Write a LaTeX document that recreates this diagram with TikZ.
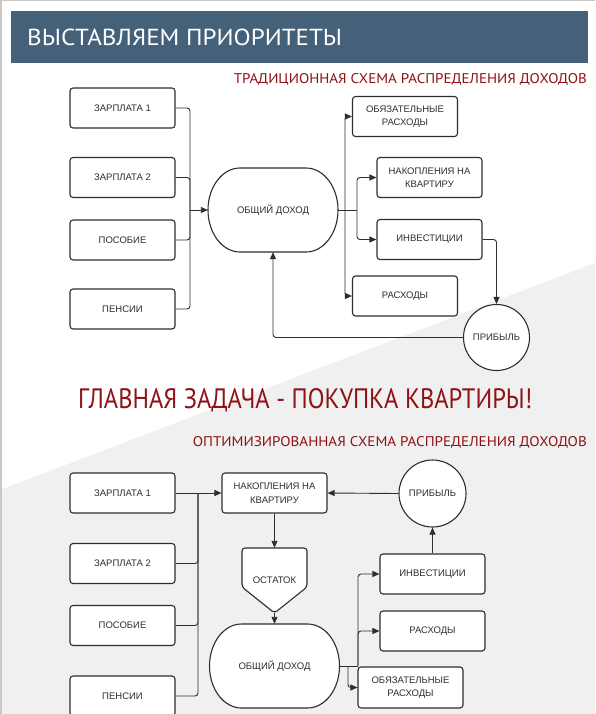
\documentclass[tikz,border=0pt]{standalone}
\usepackage{fontspec}
\setmainfont{Liberation Sans}
\newfontfamily\headfont{PT Sans}
\usetikzlibrary{arrows.meta,calc,positioning}

\definecolor{barblue}{HTML}{45617A}
\definecolor{headred}{HTML}{8E1216}
\definecolor{backgray}{HTML}{F0F0F0}
\definecolor{rim}{HTML}{C8C8C8}
\definecolor{ink}{HTML}{2E2E2E}

% stretched heading text
\newcommand{\banner}[3]{\resizebox{#1}{#2}{\headfont #3}}
% oval "total income" outline round a coordinate
\newcommand{\poolshape}[1]{%
  \filldraw[shapeline] ($(#1)+(-33,42)$) -- ($(#1)+(33,42)$)
    arc[start angle=90, end angle=-90, x radius=32, y radius=42]
    -- ($(#1)+(-33,-42)$)
    arc[start angle=270, end angle=90, x radius=32, y radius=42] -- cycle;}

\tikzset{
  boxtext/.style={font=\fontsize{9.5}{13.5}\selectfont, text=ink, align=center},
  shapeline/.style={draw=ink, fill=white, line width=1.1pt},
  block/.style={boxtext, shapeline, rounded corners=3pt, minimum width=105pt, minimum height=40pt, inner sep=1pt},
  money/.style={boxtext, shapeline, circle, minimum size=66pt, inner sep=0pt},
  pool/.style={boxtext, minimum width=130pt, minimum height=84pt, inner sep=0pt},
  link/.style={draw=ink, line width=0.9pt, rounded corners=3pt},
  flow/.style={link, -{Triangle[length=7pt, width=6pt]}},
  heading/.style={inner sep=0pt, text=headred}
}

\begin{document}
\begin{tikzpicture}[x=1pt, y=1pt]
% page, background and header
\clip (0,0) rectangle (595,-714);
\fill[white] (0,0) rectangle (595,-714);
\fill[backgray] (595,-263) -- (0,-490) -- (0,-714) -- (595,-714) -- cycle;
\draw[rim, line width=1.5pt] (0.75,-714) -- (0.75,-0.75) -- (595,-0.75);
\fill[barblue] (11,-11) rectangle (588,-63);
\node[anchor=base west, inner sep=0pt, text=white] (title) at (27,-46)
  {\banner{315pt}{16.5pt}{ВЫСТАВЛЯЕМ ПРИОРИТЕТЫ}};
\node[heading, anchor=base east] (oldhead) at (587,-84)
  {\banner{353pt}{10pt}{ТРАДИЦИОННАЯ СХЕМА РАСПРЕДЕЛЕНИЯ ДОХОДОВ}};
\node[heading, anchor=base west] (goal) at (78,-408)
  {\banner{454pt}{20pt}{ГЛАВНАЯ ЗАДАЧА - ПОКУПКА КВАРТИРЫ!}};
\node[heading, anchor=base east] (newhead) at (587,-446)
  {\banner{394pt}{10pt}{ОПТИМИЗИРОВАННАЯ СХЕМА РАСПРЕДЕЛЕНИЯ ДОХОДОВ}};

% traditional scheme
\node[block] (sal1) at (122.5,-108) {ЗАРПЛАТА 1};
\node[block] (sal2) at (122.5,-177.5) {ЗАРПЛАТА 2};
\node[block] (aid) at (122.5,-240) {ПОСОБИЕ};
\node[block] (pens) at (122.5,-309) {ПЕНСИИ};
\coordinate (totalc) at (273,-210);
\poolshape{totalc}
\node[pool] (total) at (totalc) {ОБЩИЙ ДОХОД};
\node[block] (oblig) at (405,-116.5) {ОБЯЗАТЕЛЬНЫЕ\\РАСХОДЫ};
\node[block] (save) at (429.5,-177.5) {НАКОПЛЕНИЯ НА\\КВАРТИРУ};
\node[block] (inv) at (429.5,-239.5) {ИНВЕСТИЦИИ};
\node[block] (spend) at (405,-296) {РАСХОДЫ};
\node[money] (prof) at (496.5,-337.5) {ПРИБЫЛЬ};

\coordinate (inj) at (190,-210);
\coordinate (outa) at (345,-210);
\coordinate (outb) at (357,-210);
\foreach \src in {sal1,sal2,aid,pens}
  \draw[link] (\src.east) -| (inj);
\draw[flow] (inj) -- (total.west);
\draw[link] (total.east) -- (outb);
\draw[flow] (outa) |- (oblig.west);
\draw[flow] (outa) |- (spend.west);
\draw[flow] (outb) |- (save.west);
\draw[flow] (outb) |- (inv.west);
\draw[flow] (inv.east) -| (prof.north);
\draw[flow] (prof.west) -| (total.south);

% optimized scheme
\node[block] (osal1) at (122.5,-493) {ЗАРПЛАТА 1};
\node[block] (osal2) at (122.5,-563.5) {ЗАРПЛАТА 2};
\node[block] (oaid) at (122.5,-625.5) {ПОСОБИЕ};
\node[block] (opens) at (122.5,-696) {ПЕНСИИ};
\node[block] (osave) at (274.5,-493) {НАКОПЛЕНИЯ НА\\КВАРТИРУ};
\coordinate (restc) at (274.5,-580.5);
\filldraw[shapeline, rounded corners=3pt] ($(restc)+(-32.5,32.5)$) -- ($(restc)+(32.5,32.5)$)
  -- ($(restc)+(32.5,-6.5)$) -- ($(restc)+(0,-32.5)$) -- ($(restc)+(-32.5,-6.5)$) -- cycle;
\node[boxtext, minimum size=65pt, inner sep=0pt] (rest) at (restc) {ОСТАТОК};
\coordinate (ototalc) at (274.5,-666);
\poolshape{ototalc}
\node[pool] (ototal) at (ototalc) {ОБЩИЙ ДОХОД};
\node[block] (oinv) at (432.5,-574) {ИНВЕСТИЦИИ};
\node[block] (ospend) at (432.5,-631) {РАСХОДЫ};
\node[block, minimum height=41pt] (ooblig) at (410.5,-687.5) {ОБЯЗАТЕЛЬНЫЕ\\РАСХОДЫ};
\node[money, minimum size=67pt] (oprof) at (432.5,-493.5) {ПРИБЫЛЬ};

\coordinate (oinj) at (198,-493);
\coordinate (oouta) at (348,-666);
\coordinate (ooutb) at (358,-666);
\draw[flow] (osal1.east) -- (osave.west);
\foreach \src in {osal2,oaid,opens}
  \draw[link] (\src.east) -| (oinj);
\draw[flow] (osave.south) -- (rest.north);
\draw[flow] (rest.south) -- (ototal.north);
\draw[link] (ototal.east) -- (ooutb);
\draw[flow] (oouta) |- (ooblig.west);
\draw[flow] (ooutb) |- (oinv.west);
\draw[flow] (ooutb) |- (ospend.west);
\draw[flow] (oinv.north) -- (oprof.south);
\draw[flow] (oprof.west) -- (osave.east);
\end{tikzpicture}
\end{document}
